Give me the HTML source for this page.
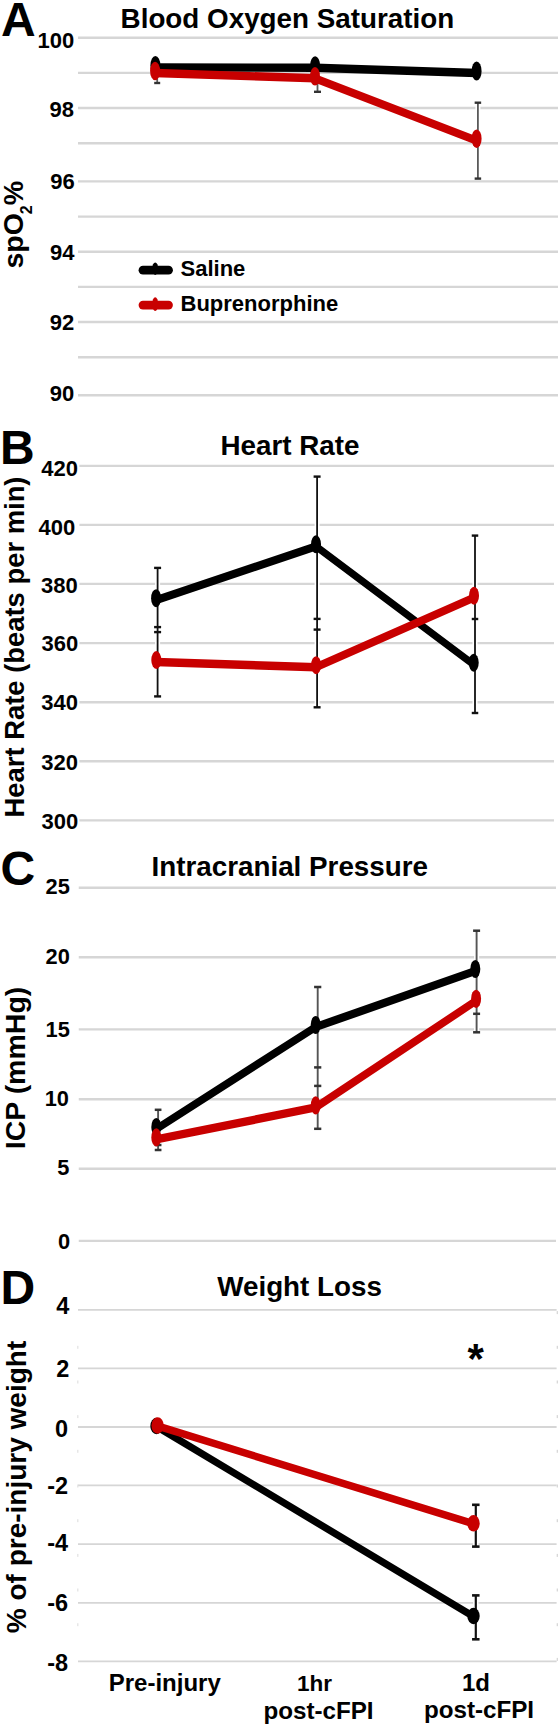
<!DOCTYPE html>
<html><head><meta charset="utf-8"><style>
html,body{margin:0;padding:0;background:#fff;}
svg{display:block;}
text{font-family:"Liberation Sans", sans-serif;font-weight:bold;fill:#000;}
</style></head><body>
<svg width="560" height="1727" viewBox="0 0 560 1727">
<rect width="560" height="1727" fill="#fff"/>
<line x1="78" y1="37.7" x2="558" y2="37.7" stroke="#d6d6d6" stroke-width="2.4"/>
<line x1="78" y1="72.9" x2="558" y2="72.9" stroke="#d6d6d6" stroke-width="2.4"/>
<line x1="78" y1="108.0" x2="558" y2="108.0" stroke="#d6d6d6" stroke-width="2.4"/>
<line x1="78" y1="143.2" x2="558" y2="143.2" stroke="#d6d6d6" stroke-width="2.4"/>
<line x1="78" y1="181.4" x2="558" y2="181.4" stroke="#d6d6d6" stroke-width="2.4"/>
<line x1="78" y1="216.6" x2="558" y2="216.6" stroke="#d6d6d6" stroke-width="2.4"/>
<line x1="78" y1="251.7" x2="558" y2="251.7" stroke="#d6d6d6" stroke-width="2.4"/>
<line x1="78" y1="286.9" x2="558" y2="286.9" stroke="#d6d6d6" stroke-width="2.4"/>
<line x1="78" y1="322.0" x2="558" y2="322.0" stroke="#d6d6d6" stroke-width="2.4"/>
<line x1="78" y1="357.2" x2="558" y2="357.2" stroke="#d6d6d6" stroke-width="2.4"/>
<line x1="78" y1="395.2" x2="558" y2="395.2" stroke="#d6d6d6" stroke-width="2.4"/>
<text x="74.30" y="47.85" font-size="22" text-anchor="end" >100</text>
<text x="74.00" y="117.30" font-size="22" text-anchor="end" >98</text>
<text x="74.80" y="189.30" font-size="22" text-anchor="end" >96</text>
<text x="74.50" y="259.80" font-size="22" text-anchor="end" >94</text>
<text x="74.30" y="330.40" font-size="22" text-anchor="end" >92</text>
<text x="74.30" y="401.00" font-size="22" text-anchor="end" >90</text>
<text x="287.40" y="27.50" font-size="27.8" text-anchor="middle" >Blood Oxygen Saturation</text>
<text x="1.00" y="36.00" font-size="48" text-anchor="start" >A</text>
<text transform="translate(22.8,268.6) rotate(-90)" font-size="28.5">spO<tspan font-size="16" dy="9" dx="-1">2</tspan><tspan font-size="27.5" dy="-9" dx="0">%</tspan></text>
<line x1="143" y1="270.2" x2="168.5" y2="270.2" stroke="#000" stroke-width="8.8" stroke-linecap="round"/>
<ellipse cx="155.2" cy="268.7" rx="3" ry="6.2" fill="#000"/>
<line x1="143" y1="305.1" x2="168.5" y2="305.1" stroke="#c80000" stroke-width="8.8" stroke-linecap="round"/>
<ellipse cx="155.2" cy="304.1" rx="3" ry="6.9" fill="#c80000"/>
<text x="180.50" y="276.30" font-size="22" text-anchor="start" >Saline</text>
<text x="180.50" y="311.20" font-size="22" text-anchor="start" >Buprenorphine</text>
<line x1="157.2" y1="70" x2="157.2" y2="83" stroke="#fff" stroke-width="5.0"/>
<line x1="157.2" y1="70" x2="157.2" y2="83" stroke="#5a5a5a" stroke-width="1.8"/>
<line x1="154.2" y1="83" x2="160.2" y2="83" stroke="#333" stroke-width="2.4"/>
<line x1="317.5" y1="80" x2="317.5" y2="91.8" stroke="#fff" stroke-width="5.0"/>
<line x1="317.5" y1="80" x2="317.5" y2="91.8" stroke="#5a5a5a" stroke-width="1.8"/>
<line x1="314.0" y1="91.8" x2="321.0" y2="91.8" stroke="#333" stroke-width="2.4"/>
<line x1="477.9" y1="102.7" x2="477.9" y2="178.6" stroke="#fff" stroke-width="5.0"/>
<line x1="477.9" y1="102.7" x2="477.9" y2="178.6" stroke="#5a5a5a" stroke-width="1.8"/>
<line x1="474.65" y1="102.7" x2="481.15" y2="102.7" stroke="#333" stroke-width="2.4"/>
<line x1="474.65" y1="178.6" x2="481.15" y2="178.6" stroke="#333" stroke-width="2.4"/>
<polyline transform="scale(0.55556,1)" points="279.72,67.5 567.18,67.7 857.88,73.0" fill="none" stroke="#000" stroke-width="8.4" stroke-linejoin="round" stroke-linecap="round"/>
<ellipse cx="155.4" cy="65.5" rx="5" ry="9.5" fill="#000"/>
<ellipse cx="315.1" cy="65.7" rx="5" ry="9.5" fill="#000"/>
<ellipse cx="476.6" cy="71" rx="5" ry="9.5" fill="#000"/>
<polyline transform="scale(0.55556,1)" points="279.18,73.0 567.00,78.3 857.88,140.7" fill="none" stroke="#c80000" stroke-width="8.4" stroke-linejoin="round" stroke-linecap="round"/>
<ellipse cx="155.1" cy="71" rx="5" ry="9.3" fill="#c80000"/>
<ellipse cx="315" cy="76.3" rx="5" ry="9.3" fill="#c80000"/>
<ellipse cx="476.6" cy="138.7" rx="5" ry="9.3" fill="#c80000"/>
<line x1="79.4" y1="465.9" x2="554" y2="465.9" stroke="#d6d6d6" stroke-width="2.4"/>
<line x1="79.4" y1="524.9" x2="554" y2="524.9" stroke="#d6d6d6" stroke-width="2.4"/>
<line x1="79.4" y1="583.9" x2="554" y2="583.9" stroke="#d6d6d6" stroke-width="2.4"/>
<line x1="79.4" y1="643.1" x2="554" y2="643.1" stroke="#d6d6d6" stroke-width="2.4"/>
<line x1="79.4" y1="702.2" x2="554" y2="702.2" stroke="#d6d6d6" stroke-width="2.4"/>
<line x1="79.4" y1="761.3" x2="554" y2="761.3" stroke="#d6d6d6" stroke-width="2.4"/>
<line x1="79.4" y1="820.4" x2="554" y2="820.4" stroke="#d6d6d6" stroke-width="2.4"/>
<text x="78.00" y="476.00" font-size="22" text-anchor="end" >420</text>
<text x="75.20" y="534.80" font-size="22" text-anchor="end" >400</text>
<text x="77.70" y="592.90" font-size="22" text-anchor="end" >380</text>
<text x="78.30" y="650.90" font-size="22" text-anchor="end" >360</text>
<text x="78.00" y="710.00" font-size="22" text-anchor="end" >340</text>
<text x="78.00" y="770.40" font-size="22" text-anchor="end" >320</text>
<text x="78.30" y="829.20" font-size="22" text-anchor="end" >300</text>
<text x="290.00" y="455.40" font-size="27.8" text-anchor="middle" >Heart Rate</text>
<text x="0.00" y="463.70" font-size="48" text-anchor="start" >B</text>
<text x="0.00" y="0.00" font-size="27.4" text-anchor="middle" transform="translate(24,647) rotate(-90)">Heart Rate (beats per min)</text>
<line x1="157.6" y1="567.9" x2="157.6" y2="696.4" stroke="#fff" stroke-width="5.0"/>
<line x1="157.6" y1="567.9" x2="157.6" y2="696.4" stroke="#111" stroke-width="1.8"/>
<line x1="154.1" y1="567.9" x2="161.1" y2="567.9" stroke="#111" stroke-width="2.4"/>
<line x1="154.1" y1="627.1" x2="161.1" y2="627.1" stroke="#111" stroke-width="2.4"/>
<line x1="154.1" y1="632.1" x2="161.1" y2="632.1" stroke="#111" stroke-width="2.4"/>
<line x1="154.1" y1="696.4" x2="161.1" y2="696.4" stroke="#111" stroke-width="2.4"/>
<line x1="317.1" y1="476.6" x2="317.1" y2="707.3" stroke="#fff" stroke-width="5.0"/>
<line x1="317.1" y1="476.6" x2="317.1" y2="707.3" stroke="#111" stroke-width="1.8"/>
<line x1="313.6" y1="476.6" x2="320.6" y2="476.6" stroke="#111" stroke-width="2.4"/>
<line x1="313.6" y1="618.9" x2="320.6" y2="618.9" stroke="#111" stroke-width="2.4"/>
<line x1="313.6" y1="629.6" x2="320.6" y2="629.6" stroke="#111" stroke-width="2.4"/>
<line x1="313.6" y1="707.3" x2="320.6" y2="707.3" stroke="#111" stroke-width="2.4"/>
<line x1="475" y1="535.6" x2="475" y2="713" stroke="#fff" stroke-width="5.0"/>
<line x1="475" y1="535.6" x2="475" y2="713" stroke="#111" stroke-width="1.8"/>
<line x1="471.75" y1="535.6" x2="478.25" y2="535.6" stroke="#111" stroke-width="2.4"/>
<line x1="471.75" y1="619" x2="478.25" y2="619" stroke="#111" stroke-width="2.4"/>
<line x1="471.75" y1="713" x2="478.25" y2="713" stroke="#111" stroke-width="2.4"/>
<polyline transform="scale(0.55556,1)" points="280.98,600.2 568.80,546.3 852.66,664.7" fill="none" stroke="#000" stroke-width="8.4" stroke-linejoin="round" stroke-linecap="round"/>
<ellipse cx="156.1" cy="598.2" rx="5" ry="9" fill="#000"/>
<ellipse cx="316" cy="544.3" rx="5" ry="9" fill="#000"/>
<ellipse cx="473.7" cy="662.7" rx="5" ry="9" fill="#000"/>
<polyline transform="scale(0.55556,1)" points="281.34,662.0 568.98,667.2 853.20,597.7" fill="none" stroke="#c80000" stroke-width="8.4" stroke-linejoin="round" stroke-linecap="round"/>
<ellipse cx="156.3" cy="660" rx="5" ry="9" fill="#c80000"/>
<ellipse cx="316.1" cy="665.2" rx="5" ry="9" fill="#c80000"/>
<ellipse cx="474" cy="595.7" rx="5" ry="9" fill="#c80000"/>
<line x1="78.75" y1="887.8" x2="556" y2="887.8" stroke="#d6d6d6" stroke-width="2.4"/>
<line x1="78.75" y1="957.3" x2="556" y2="957.3" stroke="#d6d6d6" stroke-width="2.4"/>
<line x1="78.75" y1="1029.4" x2="556" y2="1029.4" stroke="#d6d6d6" stroke-width="2.4"/>
<line x1="78.75" y1="1099.2" x2="556" y2="1099.2" stroke="#d6d6d6" stroke-width="2.4"/>
<line x1="78.75" y1="1168.8" x2="556" y2="1168.8" stroke="#d6d6d6" stroke-width="2.4"/>
<line x1="78.75" y1="1240.9" x2="556" y2="1240.9" stroke="#d6d6d6" stroke-width="2.4"/>
<text x="69.80" y="894.40" font-size="21.8" text-anchor="end" >25</text>
<text x="69.80" y="964.40" font-size="21.8" text-anchor="end" >20</text>
<text x="69.80" y="1036.60" font-size="21.8" text-anchor="end" >15</text>
<text x="68.90" y="1106.40" font-size="21.8" text-anchor="end" >10</text>
<text x="69.30" y="1175.30" font-size="21.8" text-anchor="end" >5</text>
<text x="70.20" y="1249.40" font-size="21.8" text-anchor="end" >0</text>
<text x="289.75" y="875.80" font-size="27.8" text-anchor="middle" >Intracranial Pressure</text>
<text x="0.50" y="884.50" font-size="48" text-anchor="start" >C</text>
<text x="0.00" y="0.00" font-size="28.5" text-anchor="middle" transform="translate(25,1068) rotate(-90)">ICP (mmHg)</text>
<line x1="158.1" y1="1109.8" x2="158.1" y2="1150" stroke="#fff" stroke-width="5.1"/>
<line x1="158.1" y1="1109.8" x2="158.1" y2="1150" stroke="#555" stroke-width="1.9"/>
<line x1="154.75" y1="1109.8" x2="161.45" y2="1109.8" stroke="#333" stroke-width="2.5"/>
<line x1="154.75" y1="1145" x2="161.45" y2="1145" stroke="#333" stroke-width="2.5"/>
<line x1="154.75" y1="1150" x2="161.45" y2="1150" stroke="#333" stroke-width="2.5"/>
<line x1="317.7" y1="987" x2="317.7" y2="1128.8" stroke="#fff" stroke-width="5.1"/>
<line x1="317.7" y1="987" x2="317.7" y2="1128.8" stroke="#555" stroke-width="1.9"/>
<line x1="314.09999999999997" y1="987" x2="321.3" y2="987" stroke="#333" stroke-width="2.5"/>
<line x1="314.09999999999997" y1="1067.4" x2="321.3" y2="1067.4" stroke="#333" stroke-width="2.5"/>
<line x1="314.09999999999997" y1="1085.9" x2="321.3" y2="1085.9" stroke="#333" stroke-width="2.5"/>
<line x1="314.09999999999997" y1="1128.8" x2="321.3" y2="1128.8" stroke="#333" stroke-width="2.5"/>
<line x1="476.6" y1="930.7" x2="476.6" y2="1032.3" stroke="#fff" stroke-width="5.1"/>
<line x1="476.6" y1="930.7" x2="476.6" y2="1032.3" stroke="#555" stroke-width="1.9"/>
<line x1="473.1" y1="930.7" x2="480.1" y2="930.7" stroke="#333" stroke-width="2.5"/>
<line x1="473.1" y1="1013.8" x2="480.1" y2="1013.8" stroke="#333" stroke-width="2.5"/>
<line x1="473.1" y1="1032.3" x2="480.1" y2="1032.3" stroke="#333" stroke-width="2.5"/>
<polyline transform="scale(0.71429,1)" points="218.82,1129.0 441.98,1027.0 665.42,971.0" fill="none" stroke="#000" stroke-width="8.4" stroke-linejoin="round" stroke-linecap="round"/>
<ellipse cx="156.3" cy="1127" rx="5" ry="9.1" fill="#000"/>
<ellipse cx="315.7" cy="1025" rx="5" ry="9.1" fill="#000"/>
<ellipse cx="475.3" cy="969" rx="5" ry="9.1" fill="#000"/>
<polyline transform="scale(0.71429,1)" points="218.82,1139.4 441.98,1107.4 666.54,1000.8" fill="none" stroke="#c80000" stroke-width="8.4" stroke-linejoin="round" stroke-linecap="round"/>
<ellipse cx="156.3" cy="1137.4" rx="5" ry="9.1" fill="#c80000"/>
<ellipse cx="315.7" cy="1105.4" rx="5" ry="9.1" fill="#c80000"/>
<ellipse cx="476.1" cy="998.8" rx="5" ry="9.1" fill="#c80000"/>
<line x1="78" y1="1309.8" x2="556.6" y2="1309.8" stroke="#d6d6d6" stroke-width="1.8"/>
<line x1="78" y1="1368.4" x2="556.6" y2="1368.4" stroke="#d6d6d6" stroke-width="1.8"/>
<line x1="78" y1="1427.0" x2="556.6" y2="1427.0" stroke="#d6d6d6" stroke-width="1.8"/>
<line x1="78" y1="1485.4" x2="556.6" y2="1485.4" stroke="#d6d6d6" stroke-width="1.8"/>
<line x1="78" y1="1544.2" x2="556.6" y2="1544.2" stroke="#d6d6d6" stroke-width="1.8"/>
<line x1="78" y1="1602.8" x2="556.6" y2="1602.8" stroke="#d6d6d6" stroke-width="1.8"/>
<line x1="78" y1="1661.4" x2="556.6" y2="1661.4" stroke="#d6d6d6" stroke-width="1.8"/>
<text x="69.30" y="1314.10" font-size="23.5" text-anchor="end" >4</text>
<text x="69.30" y="1376.50" font-size="23.5" text-anchor="end" >2</text>
<text x="68.20" y="1437.30" font-size="23.5" text-anchor="end" >0</text>
<text x="68.20" y="1494.20" font-size="23.5" text-anchor="end" >-2</text>
<text x="68.20" y="1550.90" font-size="23.5" text-anchor="end" >-4</text>
<text x="68.20" y="1610.80" font-size="23.5" text-anchor="end" >-6</text>
<text x="68.20" y="1670.60" font-size="23.5" text-anchor="end" >-8</text>
<text x="299.60" y="1296.40" font-size="27.8" text-anchor="middle" >Weight Loss</text>
<text x="0.50" y="1304.00" font-size="48" text-anchor="start" >D</text>
<text x="0.00" y="0.00" font-size="28" text-anchor="middle" transform="translate(26,1487) rotate(-90)">% of pre-injury weight</text>
<text x="475.80" y="1372.50" font-size="42" text-anchor="middle" >*</text>
<line x1="475.8" y1="1504.8" x2="475.8" y2="1546.6" stroke="#fff" stroke-width="5.4"/>
<line x1="475.8" y1="1504.8" x2="475.8" y2="1546.6" stroke="#111" stroke-width="2.2"/>
<line x1="472.05" y1="1504.8" x2="479.55" y2="1504.8" stroke="#111" stroke-width="2.6"/>
<line x1="472.05" y1="1546.6" x2="479.55" y2="1546.6" stroke="#111" stroke-width="2.6"/>
<line x1="475.8" y1="1595.4" x2="475.8" y2="1639.3" stroke="#fff" stroke-width="5.4"/>
<line x1="475.8" y1="1595.4" x2="475.8" y2="1639.3" stroke="#111" stroke-width="2.2"/>
<line x1="472.05" y1="1595.4" x2="479.55" y2="1595.4" stroke="#111" stroke-width="2.6"/>
<line x1="472.05" y1="1639.3" x2="479.55" y2="1639.3" stroke="#111" stroke-width="2.6"/>
<polyline transform="scale(0.76923,1)" points="203.45,1426.5 615.55,1616.5" fill="none" stroke="#000" stroke-width="7.6" stroke-linejoin="round" stroke-linecap="round"/>
<ellipse cx="156.5" cy="1426" rx="6.2" ry="8.3" fill="#000"/>
<ellipse cx="473.5" cy="1616" rx="6.2" ry="8.3" fill="#000"/>
<polyline transform="scale(0.76923,1)" points="204.88,1426.0 615.55,1523.8" fill="none" stroke="#c80000" stroke-width="7.6" stroke-linejoin="round" stroke-linecap="round"/>
<ellipse cx="157.6" cy="1425.5" rx="6.2" ry="8.3" fill="#c80000"/>
<ellipse cx="473.5" cy="1523.3" rx="6.2" ry="8.3" fill="#c80000"/>
<rect x="556.7" y="1311.1" width="1.2" height="3" fill="#d4d4d4"/>
<rect x="556.7" y="1345.8" width="1.2" height="3" fill="#d4d4d4"/>
<rect x="77.2" y="1345.8" width="1.2" height="3" fill="#e2e2e2"/>
<rect x="556.7" y="1380.5" width="1.2" height="3" fill="#d4d4d4"/>
<rect x="77.2" y="1380.5" width="1.2" height="3" fill="#e2e2e2"/>
<rect x="556.7" y="1415.1" width="1.2" height="3" fill="#d4d4d4"/>
<rect x="77.2" y="1415.1" width="1.2" height="3" fill="#e2e2e2"/>
<rect x="556.7" y="1449.8" width="1.2" height="3" fill="#d4d4d4"/>
<rect x="77.2" y="1449.8" width="1.2" height="3" fill="#e2e2e2"/>
<rect x="556.7" y="1484.5" width="1.2" height="3" fill="#d4d4d4"/>
<rect x="77.2" y="1484.5" width="1.2" height="3" fill="#e2e2e2"/>
<rect x="556.7" y="1519.2" width="1.2" height="3" fill="#d4d4d4"/>
<rect x="77.2" y="1519.2" width="1.2" height="3" fill="#e2e2e2"/>
<rect x="556.7" y="1553.9" width="1.2" height="3" fill="#d4d4d4"/>
<rect x="77.2" y="1553.9" width="1.2" height="3" fill="#e2e2e2"/>
<rect x="556.7" y="1588.5" width="1.2" height="3" fill="#d4d4d4"/>
<rect x="77.2" y="1588.5" width="1.2" height="3" fill="#e2e2e2"/>
<rect x="556.7" y="1623.2" width="1.2" height="3" fill="#d4d4d4"/>
<rect x="77.2" y="1623.2" width="1.2" height="3" fill="#e2e2e2"/>
<rect x="556.7" y="1657.9" width="1.2" height="3" fill="#d4d4d4"/>
<text x="164.75" y="1691.25" font-size="24" text-anchor="middle" >Pre-injury</text>
<text x="314.50" y="1690.70" font-size="22.5" text-anchor="middle" >1hr</text>
<text x="318.50" y="1718.60" font-size="24.2" text-anchor="middle" >post-cFPI</text>
<text x="476.00" y="1690.70" font-size="24" text-anchor="middle" >1d</text>
<text x="479.00" y="1718.10" font-size="24.2" text-anchor="middle" >post-cFPI</text>
</svg>
</body></html>
